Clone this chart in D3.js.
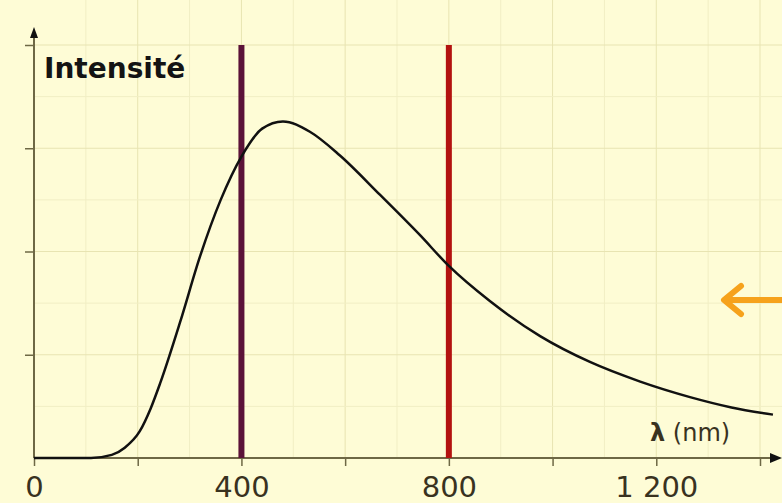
<!DOCTYPE html>
<html>
<head>
<meta charset="utf-8">
<script src="https://cdn.jsdelivr.net/npm/d3@7"></script>
<style>
  body { margin: 0; background: #fefcd6; }
  svg { display: block; }
</style>
</head>
<body>
<div id="chart"></div>
<script>
  // values (wavelength in nm, intensity in axis units)
  var lambdas = [0, 110, 150, 175, 204, 225, 243, 282, 320, 360, 400, 440, 480, 532, 590, 667, 744, 800, 879, 976, 1072, 1169, 1265, 1345, 1425];
  var intensity = [0, 0, 0.03, 0.10, 0.26, 0.48, 0.72, 1.32, 1.95, 2.50, 2.92, 3.19, 3.26, 3.16, 2.93, 2.55, 2.16, 1.86, 1.52, 1.18, 0.93, 0.74, 0.59, 0.49, 0.42];
  var markerLines = [400, 800];
  var markerColors = ["#5b1238", "#b3120f"];
  var xTicks = [0, 200, 400, 600, 800, 1000, 1200, 1400];
  var xTickLabels = {0: "0", 400: "400", 800: "800", 1200: "1 200"};
  var yTicks = [1, 2, 3, 4];

  var data = lambdas.map(function(l, i) {
    return {l: l, v: intensity[i]};
  });

  var W = 782, H = 503;
  var margin = {top: 45, right: 22, bottom: 45, left: 34};
  var width = 760 - margin.left,
      height = 458 - margin.top;

  var x = d3.scaleLinear().domain([0, 1400]).range([0, width]);
  var y = d3.scaleLinear().domain([0, 4]).range([height, 0]);

  var svg = d3.select("#chart").append("svg")
    .attr("width", W)
    .attr("height", H);

  svg.append("rect")
    .attr("width", W).attr("height", H)
    .attr("fill", "#fefcd6");

  var g = svg.append("g")
    .attr("transform", "translate(" + margin.left + "," + margin.top + ")");

  // grid, minor every 100 nm / half unit
  var gx = d3.range(100, 1500, 100);
  var gy = d3.range(0.5, 4.5, 0.5);
  g.selectAll(".vgrid").data(gx).enter().append("line")
    .attr("x1", function(d) { return x(d); })
    .attr("x2", function(d) { return x(d); })
    .attr("y1", -45).attr("y2", height)
    .attr("stroke", function(d) { return d % 200 == 0 ? "#e8e4b2" : "#f1eec4"; })
    .attr("stroke-width", 1);
  g.selectAll(".hgrid").data(gy).enter().append("line")
    .attr("y1", function(d) { return y(d); })
    .attr("y2", function(d) { return y(d); })
    .attr("x1", 0).attr("x2", W - margin.left)
    .attr("stroke", function(d) { return d % 1 == 0 ? "#e8e4b2" : "#f1eec4"; })
    .attr("stroke-width", 1);

  // x axis
  var xAxis = g.append("g")
    .attr("transform", "translate(0," + height + ")")
    .call(d3.axisBottom(x)
      .tickValues(xTicks)
      .tickSize(8)
      .tickPadding(10)
      .tickFormat(function(d) { return xTickLabels[d] || ""; }));
  xAxis.select(".domain").remove();
  xAxis.selectAll(".tick line").attr("stroke", "#6e6845").attr("stroke-width", 1.5);
  xAxis.selectAll(".tick text")
    .attr("fill", "#39321f")
    .style("font-family", "'DejaVu Sans', sans-serif")
    .style("font-size", "29px");

  g.append("line")
    .attr("x1", 0).attr("x2", W - margin.left - 8)
    .attr("y1", height).attr("y2", height)
    .attr("stroke", "#6e6845").attr("stroke-width", 2);
  g.append("path")
    .attr("d", "M" + (W - margin.left) + "," + height + "l-12,-5v10z")
    .attr("fill", "#111");

  // y axis
  var yAxis = g.append("g")
    .call(d3.axisLeft(y).tickValues(yTicks).tickSize(9).tickFormat(""));
  yAxis.select(".domain").remove();
  yAxis.selectAll(".tick line").attr("stroke", "#6e6845").attr("stroke-width", 1.5);

  g.append("line")
    .attr("x1", 0).attr("x2", 0)
    .attr("y1", height).attr("y2", -10)
    .attr("stroke", "#6e6845").attr("stroke-width", 2);
  g.append("path")
    .attr("d", "M0," + (-18) + "l-4,11h8z")
    .attr("fill", "#111");

  // marker lines at 400 and 800 nm
  g.selectAll(".marker").data(markerLines).enter().append("line")
    .attr("x1", function(d) { return x(d); })
    .attr("x2", function(d) { return x(d); })
    .attr("y1", y(4)).attr("y2", height)
    .attr("stroke", function(d, i) { return markerColors[i]; })
    .attr("stroke-width", 6);

  // curve
  var line = d3.line()
    .x(function(d) { return x(d.l); })
    .y(function(d) { return y(d.v); })
    .curve(d3.curveMonotoneX);

  g.append("path")
    .datum(data)
    .attr("d", line)
    .attr("fill", "none")
    .attr("stroke", "#111")
    .attr("stroke-width", 2.5);

  // labels
  svg.append("text")
    .attr("x", 44).attr("y", 78)
    .attr("fill", "#141414")
    .style("font-family", "'DejaVu Sans', sans-serif")
    .style("font-weight", "bold")
    .style("font-size", "28px")
    .text("Intensité");

  svg.append("text")
    .attr("x", 650).attr("y", 441)
    .attr("fill", "#39321f")
    .style("font-family", "'DejaVu Sans', sans-serif")
    .style("font-size", "24px")
    .html("<tspan font-weight='bold'>λ</tspan> (nm)");

  // orange arrow on the right edge
  svg.append("line")
    .attr("x1", 782).attr("x2", 728)
    .attr("y1", 300).attr("y2", 300)
    .attr("stroke", "#f6a21c").attr("stroke-width", 6);
  svg.append("path")
    .attr("d", "M741,286 L724,300 L741,314")
    .attr("fill", "none")
    .attr("stroke", "#f6a21c")
    .attr("stroke-width", 6)
    .attr("stroke-linecap", "round")
    .attr("stroke-linejoin", "round");
</script>
</body>
</html>
